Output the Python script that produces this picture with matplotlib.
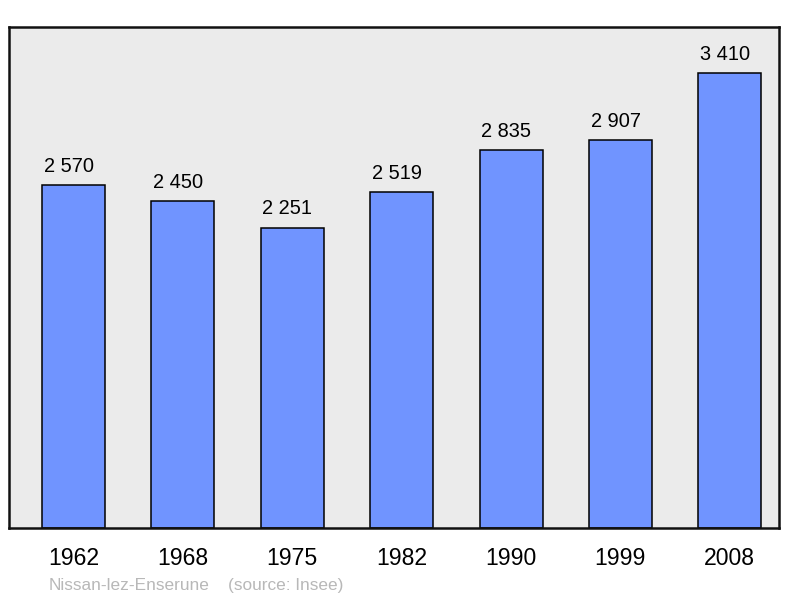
import matplotlib
matplotlib.use("Agg")
from matplotlib import pyplot as plt

years = ["1962", "1968", "1975", "1982", "1990", "1999", "2008"]
population = [2570, 2450, 2251, 2519, 2835, 2907, 3410]
value_labels = ["2 570", "2 450", "2 251", "2 519", "2 835", "2 907", "3 410"]
source_name = "Nissan-lez-Enserune"
source_note = "(source: Insee)"

plt.rcParams['font.family'] = ['Liberation Sans', 'DejaVu Sans']

fig = plt.figure(figsize=(8, 5.98), dpi=100)
ax = fig.add_axes([9 / 800, 70 / 598, 770 / 800, 501 / 598])
ax.set_facecolor('#ebebeb')

x = list(range(len(years)))
ax.bar(x, population, width=0.576, color='#7094ff', edgecolor='black', linewidth=1.1, zorder=2)

# labels sit a bit left of the bar centre, like in the original
for xi, v, lab in zip(x, population, value_labels):
    ax.annotate(lab, (xi, v), xytext=(-3.5, 9.5), textcoords='offset points',
                ha='center', va='baseline', fontsize=14.4)

for xi, yr in zip(x, years):
    ax.annotate(yr, (xi, 0), xycoords=('data', 'axes fraction'), xytext=(0, -26.5),
                textcoords='offset points', ha='center', va='baseline', fontsize=16.6)

ax.set_xlim(-0.59, 6.45)
ax.set_ylim(0, 3755)
ax.set_xticks([])
ax.set_yticks([])
for s in ax.spines.values():
    s.set_linewidth(1.8)
    s.set_color('#111111')

fig.text(49 / 800, 1 - 590 / 598, source_name, fontsize=12.4, color='#b8b8b8', va='baseline', ha='left')
fig.text(228 / 800, 1 - 590 / 598, source_note, fontsize=12.4, color='#b8b8b8', va='baseline', ha='left')

plt.savefig('out.png', dpi=100)
